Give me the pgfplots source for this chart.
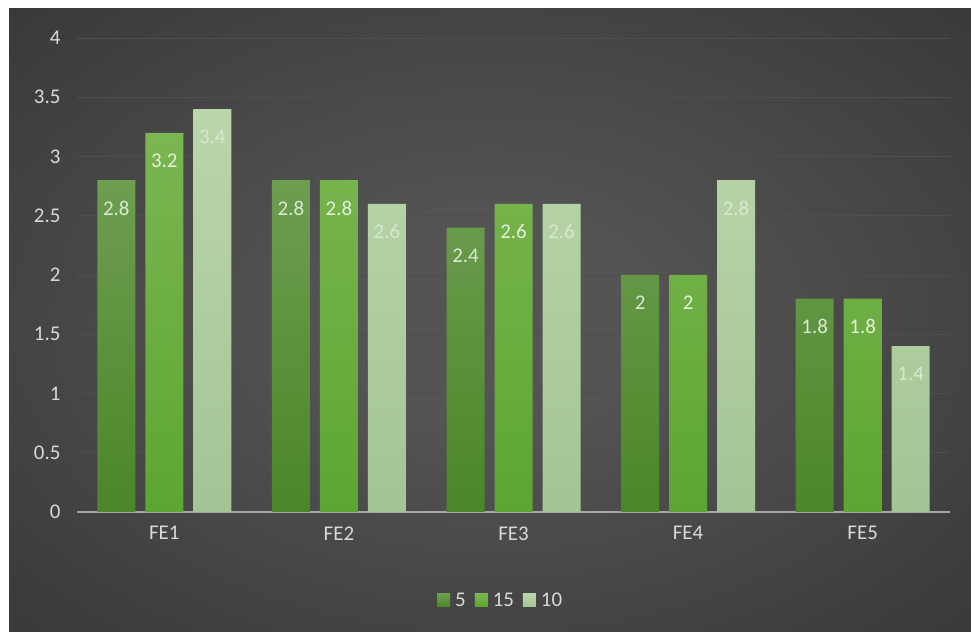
\documentclass[border=0pt]{standalone}
\usepackage{fontspec}
\setmainfont{Carlito}
\usepackage{pgfplots}
\pgfplotsset{compat=1.18}
\definecolor{bgin}{HTML}{545454}
\definecolor{bgout}{HTML}{2B2B2B}
\definecolor{bgcorner}{HTML}{252525}
\definecolor{gridc}{HTML}{4E4E4E}
\definecolor{axisc}{HTML}{A6A6A6}
\definecolor{labc}{HTML}{D9D9D9}
\definecolor{aTop}{HTML}{6D9E51}
\definecolor{aBot}{HTML}{4B8628}
\definecolor{bTop}{HTML}{7BB651}
\definecolor{bBot}{HTML}{5DA631}
\definecolor{cTop}{HTML}{BAD6AA}
\definecolor{cBot}{HTML}{A3C593}
\definecolor{aLab}{HTML}{DCE8D4}
\definecolor{bLab}{HTML}{E4EFDC}
\definecolor{cLab}{HTML}{D8E8CF}
\pgfdeclareradialshading{bgshade}{\pgfpoint{0bp}{0bp}}{color(0bp)=(bgin); color(8bp)=(bgin); color(50bp)=(bgout); color(72bp)=(bgcorner)}
\begin{document}
\begin{tikzpicture}[x=1bp,y=1bp]
\fill[white] (0,0) rectangle (971,632);
\shade[shading=bgshade] (9,0) rectangle (971,623);
\begin{axis}[
  at={(77bp,120bp)}, anchor=south west,
  scale only axis, width=873bp, height=474bp,
  ybar=10bp, bar width=38bp,
  xmin=-0.5, xmax=4.5, ymin=0, ymax=4,
  xtick={0,1,2,3,4}, xticklabels={FE1,FE2,FE3,FE4,FE5},
  ytick={0,0.5,1,1.5,2,2.5,3,3.5,4},
  major tick length=0pt,
  axis x line=bottom, axis y line=left,
  x axis line style={-, draw=axisc, line width=1.6bp},
  y axis line style={draw=none},
  ymajorgrids, grid style={gridc, line width=0.9bp},
  /pgf/number format/assume math mode=true,
  ticklabel style={font=\fontsize{21}{24}\selectfont, text=labc},
  yticklabel style={xshift=-13bp},
  xticklabel style={yshift=-11bp},
  nodes near coords,
  every node near coord/.append style={font=\fontsize{21}{24}\selectfont, anchor=center, yshift=-28bp},
  legend columns=-1,
  legend style={draw=none, fill=none, at={(0.487,-0.186)}, anchor=center,
    font=\fontsize{21}{24}\selectfont, text=labc,
    nodes={inner xsep=5bp},
    /tikz/every even column/.append style={column sep=4bp}},
  legend image code/.code={\fill[#1] (0bp,-6.5bp) rectangle (13bp,6.5bp);},
]
\addplot[draw=none, top color=aTop, bottom color=aBot, every node near coord/.append style={text=aLab}]
  coordinates {(0,2.8) (1,2.8) (2,2.4) (3,2) (4,1.8)};
\addplot[draw=none, top color=bTop, bottom color=bBot, every node near coord/.append style={text=bLab}]
  coordinates {(0,3.2) (1,2.8) (2,2.6) (3,2) (4,1.8)};
\addplot[draw=none, top color=cTop, bottom color=cBot, every node near coord/.append style={text=cLab}]
  coordinates {(0,3.4) (1,2.6) (2,2.6) (3,2.8) (4,1.4)};
\legend{5,15,10}
\end{axis}
\end{tikzpicture}
\end{document}
